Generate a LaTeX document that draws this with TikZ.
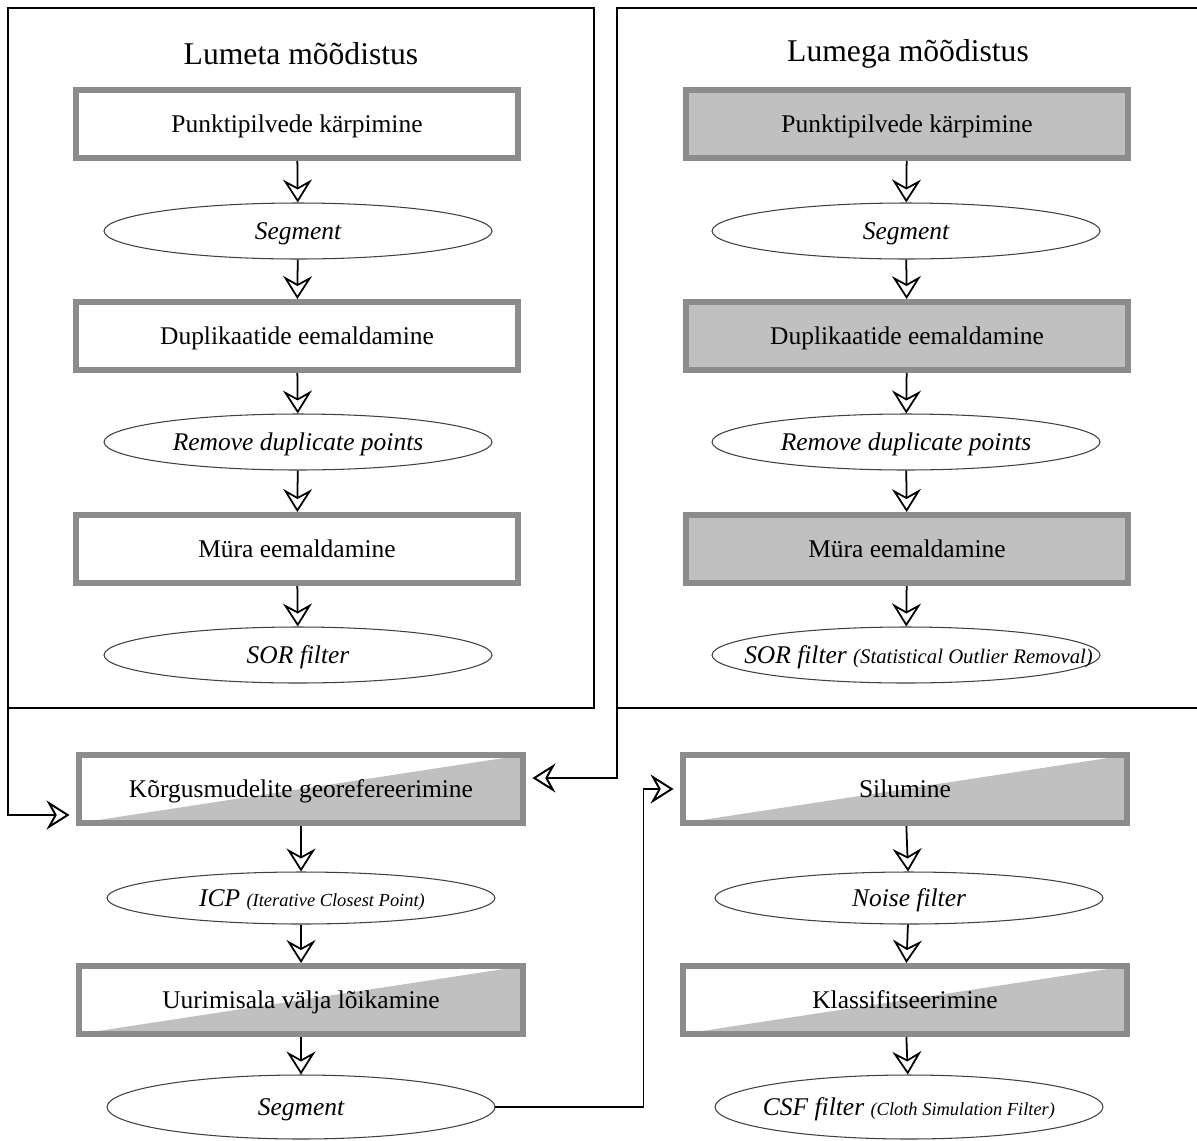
\documentclass[tikz,border=0pt]{standalone}
\usepackage{fontspec}
\setmainfont{Liberation Serif}
\usetikzlibrary{arrows.meta,shapes.geometric,calc}
\definecolor{frm}{RGB}{140,140,140}
\definecolor{shd}{RGB}{192,192,192}
\tikzset{
  stp/.style={draw=frm,line width=0.12cm,minimum width=8.84cm,minimum height=1.36cm,inner sep=0pt,text depth=0pt,font=\fontsize{14.5}{16}\selectfont},
  stpg/.style={stp,fill=shd},
  stph/.style={stp,minimum width=8.9cm,path picture={\fill[shd] (path picture bounding box.south west) -- (path picture bounding box.north east) -- (path picture bounding box.south east) -- cycle;}},
  tool/.style={draw=black!75,line width=0.6pt,ellipse,minimum width=7.76cm,minimum height=1.12cm,inner sep=0pt,text depth=0pt,font=\fontsize{14.5}{16}\selectfont\itshape},
  nxt/.style={line width=1pt,-{Stealth[open,length=0.46cm,width=0.58cm,inset=0.16cm]}},
  lnk/.style={line width=1.1pt,shorten >=0.12cm,-{Stealth[open,length=0.46cm,width=0.58cm,inset=0.16cm]}},
  pnl/.style={line width=1.1pt},
  ttl/.style={font=\fontsize{18}{20}\selectfont}
}
\newcommand{\aside}[2][10.5]{{\fontsize{#1}{12}\selectfont(#2)}}
\newcommand{\wide}[2][0cm]{\makebox[0pt]{\hspace{#1}#2}}

\begin{document}
\begin{tikzpicture}[x=0.02cm,y=-0.02cm]
\useasboundingbox (0,0) rectangle (1197,1140);
\draw[pnl] (8,8) rectangle (594,708); \coordinate (lp) at (8,708);
\draw[pnl] (1197,8) -| (617,708) -- (1197,708); \coordinate (rp) at (617,708);
\node[ttl] (t1) at (301,54) {Lumeta mõõdistus};
\node[ttl] (t2) at (908,54) {Lumega mõõdistus};
% lumeta
\node[stp] (a1) at (297,124) {Punktipilvede kärpimine};
\node[tool] (a2) at (298,231) {Segment};
\node[stp] (a3) at (297,336) {Duplikaatide eemaldamine};
\node[tool] (a4) at (298,442) {Remove duplicate points};
\node[stp] (a5) at (297,549) {Müra eemaldamine};
\node[tool] (a6) at (298,655) {SOR filter};
% lumega
\node[stpg] (b1) at (907,124) {Punktipilvede kärpimine};
\node[tool] (b2) at (906,231) {Segment};
\node[stpg] (b3) at (907,336) {Duplikaatide eemaldamine};
\node[tool] (b4) at (906,442) {Remove duplicate points};
\node[stpg] (b5) at (907,549) {Müra eemaldamine};
\node[tool] (b6) at (906,655) {\wide[0.5cm]{SOR filter \aside[11.8]{Statistical Outlier Removal}}};
% koos
\node[stph] (c1) at (301,789) {Kõrgusmudelite georefereerimine};
\node[tool,minimum height=1.04cm] (c2) at (301,898) {\wide[0.44cm]{ICP \aside{Iterative Closest Point}}};
\node[stph] (c3) at (301,1000) {Uurimisala välja lõikamine};
\node[tool,minimum height=1.28cm] (c4) at (301,1107) {Segment};
\node[stph] (d1) at (905,789) {Silumine};
\node[tool,minimum height=1.04cm] (d2) at (909,898) {Noise filter};
\node[stph] (d3) at (905,1000) {Klassifitseerimine};
\node[tool,minimum height=1.28cm] (d4) at (909,1107) {\wide{CSF filter \aside{Cloth Simulation Filter}}};
\foreach \p/\q in {a1/a2,a2/a3,a3/a4,a4/a5,a5/a6,b1/b2,b2/b3,b3/b4,b4/b5,b5/b6,c1/c2,c2/c3,c3/c4,d1/d2,d2/d3,d3/d4}
  \draw[nxt] (\p) -- (\q);
\draw[lnk] (lp) |- ($(c1.west)+(0,26)$);
\draw[lnk] (rp) |- ($(c1.east)+(0,-11)$);
\draw[lnk] (c4.east) -- ++(148,0) |- (d1.west);
\end{tikzpicture}
\end{document}
